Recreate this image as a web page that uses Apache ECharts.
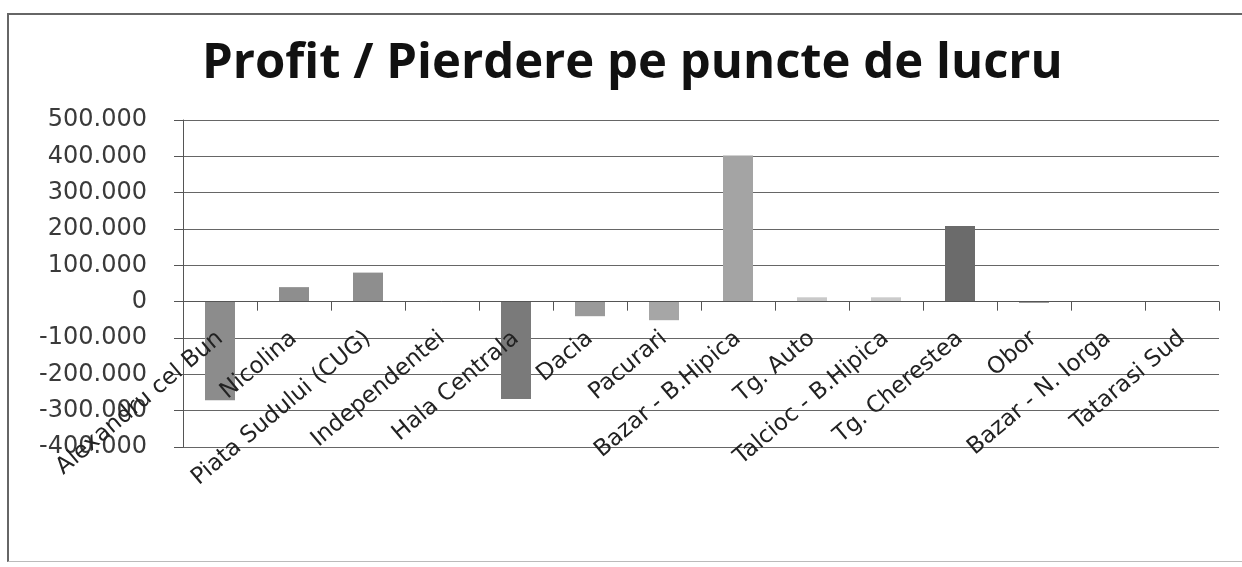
<!DOCTYPE html>
<html>
<head>
<meta charset="utf-8">
<script src="https://cdn.jsdelivr.net/npm/echarts@6/dist/echarts.min.js"></script>
<style>
    html, body { margin: 0; padding: 0; background: #fff; }
    #frame { position: absolute; left: 7px; top: 13px; width: 1300px; height: 546px; border-left: 2px solid #666; border-top: 2px solid #666; border-bottom: 1px solid #bbb; }
    #chart { position: absolute; top: 0; left: 0; width: 1242px; height: 567px; }
</style>
</head>
<body>
<div id="frame"></div>
<div id="chart"></div>
<script>
// puncte de lucru
const categories = [
    "Alexandru cel Bun", "Nicolina", "Piata Sudului (CUG)", "Independentei",
    "Hala Centrala", "Dacia", "Pacurari", "Bazar - B.Hipica", "Tg. Auto",
    "Talcioc - B.Hipica", "Tg. Cherestea", "Obor", "Bazar - N. Iorga", "Tatarasi Sud"
]
// profit / pierdere (lei)
const values = [
    -271000, 40000, 80000, 2000,
    -268000, -40000, -51000, 402000, 12000,
    12000, 208000, -3000, 0, 0
]
// nuante de gri din original
const barColors = [
    "#8c8c8c", "#8e8e8e", "#8e8e8e", "#bdbdbd",
    "#7a7a7a", "#9a9a9a", "#a6a6a6", "#a4a4a4", "#c9c9c9",
    "#cbcbcb", "#6b6b6b", "#7c7c7c", "#999999", "#999999"
]
const yMin = -400000
const yMax = 500000

const fmt = v => v === 0 ? "0" : String(v).replace(/\B(?=(\d{3})+(?!\d))/g, ".")

const gridTop = 120
const gridBottom = 120
const plotHeight = 567 - gridTop - gridBottom
// axa categoriilor sta pe linia de zero (etichetele o urmeaza)
const zeroOffset = -plotHeight * (0 - yMin) / (yMax - yMin)

let myChart = echarts.init(document.getElementById("chart"))
let option = {
    animation: false,
    title: {
        text: "Profit / Pierdere pe puncte de lucru",
        left: 197,
        top: 35,
        textStyle: {
            fontFamily: "Open Sans",
            fontWeight: "bold",
            fontSize: 49,
            color: "#111"
        }
    },
    grid: {
        left: 183,
        right: 23,
        top: gridTop,
        bottom: gridBottom,
        containLabel: false,
        outerBoundsMode: "none"
    },
    xAxis: {
        type: "category",
        data: categories,
        offset: zeroOffset,
        z: 5,
        axisLine: {
            onZero: false,
            lineStyle: { color: "#555", width: 1 }
        },
        axisTick: {
            show: true,
            length: 9,
            lineStyle: { color: "#555" }
        },
        axisLabel: {
            interval: 0,
            rotate: 40,
            margin: 34,
            fontFamily: "DejaVu Sans",
            fontSize: 23,
            color: "#222"
        }
    },
    yAxis: {
        type: "value",
        min: yMin,
        max: yMax,
        interval: 100000,
        axisLine: {
            show: true,
            lineStyle: { color: "#555", width: 1 }
        },
        axisTick: {
            show: true,
            length: 9,
            lineStyle: { color: "#555" }
        },
        splitLine: {
            lineStyle: { color: "#666", width: 1 }
        },
        axisLabel: {
            margin: 36,
            fontFamily: "DejaVu Sans",
            fontSize: 24,
            color: "#3a3a3a",
            formatter: fmt
        }
    },
    series: [
        {
            type: "bar",
            barWidth: 30,
            data: values.map((v, i) => ({
                value: v,
                itemStyle: { color: barColors[i] }
            }))
        }
    ]
}
myChart.setOption(option)
</script>
</body>
</html>
